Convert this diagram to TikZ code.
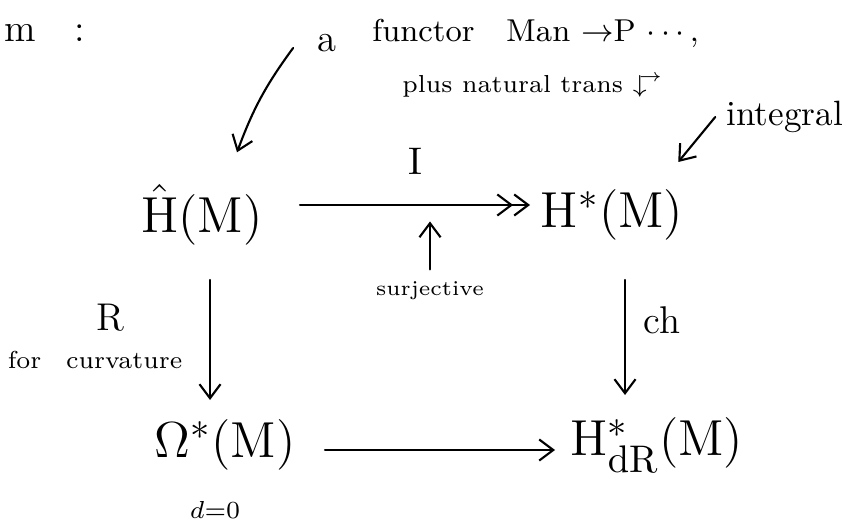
\documentclass[tikz,border=0pt]{standalone}
\usepackage{amsmath,amssymb}
\usepackage{tikz}
\usetikzlibrary{arrows.meta,calc,positioning}
\tikzset{
  big/.style={font=\fontsize{15}{18}\selectfont},
  mid/.style={font=\fontsize{11}{13}\selectfont},
  note/.style={font=\fontsize{7}{9}\selectfont},
  hand/.style={line width=0.6pt,line cap=round},
}

\begin{document}
\begin{tikzpicture}[>={Straight Barb[length=4pt,width=6pt]}]
  \useasboundingbox (0,0) rectangle (8.52,5.31);
  % the square
  \node[big] (hatH) at (2.02,3.16) {$\hat{\mathrm{H}}(\mathrm{M})$};
  \node[big] (Hst) at (6.12,3.16) {$\mathrm{H}^{*}(\mathrm{M})$};
  \node[big] (omega) at (2.25,0.86) {$\Omega^{*}(\mathrm{M})$};
  \node[note] (dzero) at (2.15,0.21) {$d{=}0$};
  \node[big] (HdR) at (6.57,0.86) {$\mathrm{H}^{*}_{\mathrm{dR}}(\mathrm{M})$};
  \draw[hand,->>] (3.0,3.26) -- node[above=5pt,mid] (Ilab) {$\mathrm{I}$} (5.3,3.26);
  \draw[hand,->] (2.1,2.51) -- (2.1,1.31);
  \draw[hand,->] (6.25,2.51) -- (6.25,1.36);
  \draw[hand,->] (3.25,0.81) -- (5.55,0.81);
  % labels on the arrows
  \node[mid] (Rlab) at (1.1,2.13) {R};
  \node[note] (curv) at (0.95,1.71) {for\quad curvature};
  \node[mid] (chlab) at (6.62,2.11) {ch};
  \node[font=\fontsize{6}{7}\selectfont] (surj) at (4.3,2.4) {surjective};
  \draw[hand,->] (surj.north) -- ++(0,0.48);
  % remarks
  \node[mid,anchor=west] (mcol) at (-0.08,4.98) {m\quad:};
  \node[mid] (a) at (3.27,4.88) {a};
  \node[font=\fontsize{9}{11}\selectfont,anchor=west] (fun) at (3.6,4.98) {functor\quad Man $\to$P $\cdots$,};
  \node[note,anchor=west] (nat) at (3.9,4.45) {plus natural trans $\downarrow^{\!\!\rightarrow}$};
  \draw[hand,->] ([shift={(-0.12,-0.05)}]a.west) to[bend right=8] ([shift={(0.35,0.2)}]hatH.north);
  \node[font=\fontsize{10}{12}\selectfont,anchor=east,inner xsep=1pt] (integ) at (8.47,4.14) {integral};
  \draw[hand,->] ([xshift=-2pt]integ.west) -- ++(-0.37,-0.45);
\end{tikzpicture}
\end{document}
